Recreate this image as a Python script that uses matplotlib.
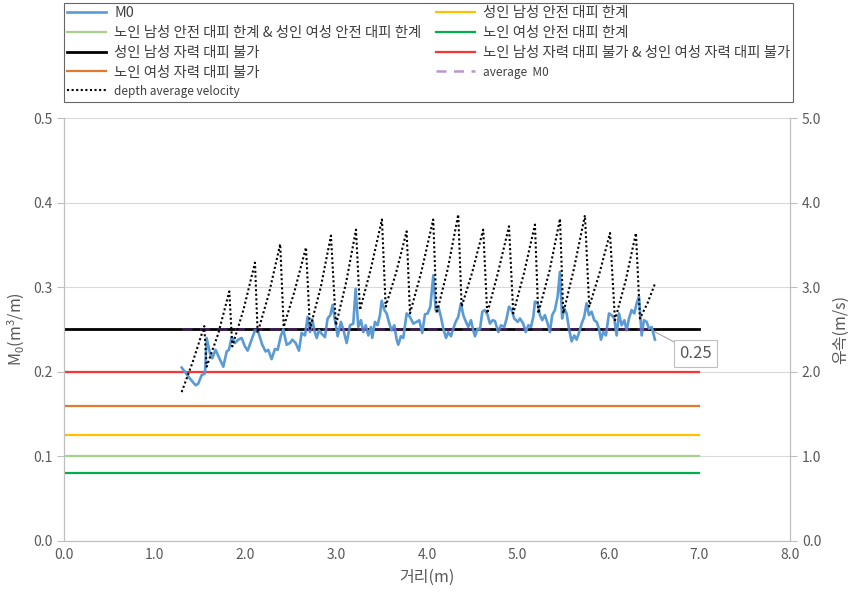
import matplotlib
matplotlib.use("Agg")
import matplotlib.pyplot as plt

plt.rcParams['font.family'] = ['Noto Sans CJK KR', 'DejaVu Sans']
plt.rcParams['mathtext.fontset'] = 'custom'
plt.rcParams['mathtext.rm'] = 'Noto Sans CJK KR'
plt.rcParams['mathtext.it'] = 'Noto Sans CJK KR'

# M0 시계열 (거리 m, M0 m3/m)
m0_x = [1.297, 1.388, 1.451, 1.48, 1.517, 1.554, 1.572, 1.609, 1.634, 1.671, 1.712, 1.756, 1.793, 1.818,
        1.848, 1.884, 1.921, 1.958, 1.994, 2.024, 2.061, 2.105, 2.141, 2.185, 2.222, 2.251, 2.288, 2.325,
        2.355, 2.391, 2.417, 2.454, 2.49, 2.516, 2.553, 2.59, 2.619, 2.656, 2.685, 2.711, 2.736, 2.759,
        2.785, 2.81, 2.84, 2.876, 2.905, 2.935, 2.961, 2.986, 3.016, 3.052, 3.078, 3.115, 3.152, 3.188,
        3.214, 3.243, 3.273, 3.298, 3.325, 3.354, 3.383, 3.397, 3.427, 3.456, 3.482, 3.501, 3.53, 3.556,
        3.585, 3.611, 3.64, 3.666, 3.684, 3.713, 3.739, 3.776, 3.812, 3.849, 3.886, 3.915, 3.948, 3.978,
        4.008, 4.037, 4.07, 4.096, 4.125, 4.154, 4.18, 4.21, 4.235, 4.264, 4.29, 4.316, 4.345, 4.375,
        4.4, 4.43, 4.455, 4.485, 4.51, 4.529, 4.558, 4.584, 4.61, 4.639, 4.669, 4.694, 4.724, 4.749,
        4.786, 4.815, 4.852, 4.878, 4.904, 4.933, 4.962, 5.0, 5.025, 5.061, 5.088, 5.117, 5.146, 5.172,
        5.19, 5.22, 5.245, 5.27, 5.3, 5.33, 5.355, 5.38, 5.41, 5.44, 5.465, 5.49, 5.513, 5.539, 5.565,
        5.594, 5.623, 5.649, 5.675, 5.705, 5.733, 5.759, 5.785, 5.815, 5.843, 5.87, 5.895, 5.917, 5.943,
        5.972, 6.006, 6.035, 6.064, 6.09, 6.116, 6.145, 6.175, 6.2, 6.226, 6.255, 6.285, 6.311, 6.336,
        6.366, 6.391, 6.421, 6.446, 6.476, 6.512]
m0_y = [0.205, 0.192, 0.184, 0.186, 0.196, 0.198, 0.240, 0.222, 0.216, 0.226, 0.216, 0.206, 0.224, 0.226,
        0.241, 0.234, 0.238, 0.240, 0.230, 0.225, 0.236, 0.249, 0.247, 0.232, 0.224, 0.226, 0.215, 0.227,
        0.226, 0.243, 0.250, 0.232, 0.234, 0.238, 0.234, 0.225, 0.246, 0.243, 0.265, 0.247, 0.262, 0.249,
        0.240, 0.249, 0.245, 0.241, 0.263, 0.267, 0.279, 0.261, 0.242, 0.259, 0.250, 0.234, 0.255, 0.257,
        0.298, 0.253, 0.261, 0.247, 0.255, 0.243, 0.253, 0.240, 0.259, 0.255, 0.267, 0.284, 0.273, 0.269,
        0.257, 0.249, 0.255, 0.238, 0.232, 0.242, 0.240, 0.269, 0.265, 0.257, 0.259, 0.261, 0.246, 0.268,
        0.269, 0.277, 0.314, 0.273, 0.277, 0.265, 0.251, 0.240, 0.247, 0.242, 0.251, 0.259, 0.265, 0.281,
        0.267, 0.259, 0.253, 0.261, 0.249, 0.242, 0.251, 0.250, 0.271, 0.273, 0.267, 0.257, 0.261, 0.260,
        0.247, 0.255, 0.253, 0.263, 0.277, 0.273, 0.263, 0.259, 0.263, 0.257, 0.247, 0.255, 0.253, 0.265,
        0.283, 0.281, 0.267, 0.261, 0.267, 0.257, 0.247, 0.267, 0.273, 0.289, 0.318, 0.263, 0.275, 0.269,
        0.251, 0.236, 0.243, 0.238, 0.246, 0.257, 0.265, 0.281, 0.267, 0.271, 0.261, 0.259, 0.251, 0.238,
        0.247, 0.243, 0.269, 0.267, 0.263, 0.243, 0.269, 0.255, 0.261, 0.249, 0.263, 0.273, 0.269, 0.281,
        0.289, 0.243, 0.261, 0.259, 0.251, 0.253, 0.238]

# 수심 평균 유속 (m/s)
vel_x = [1.297, 1.42, 1.546, 1.572, 1.70, 1.822, 1.855, 1.98, 2.105, 2.134, 2.26, 2.383, 2.421, 2.54,
         2.667, 2.711, 2.83, 2.942, 2.997, 3.11, 3.218, 3.262, 3.38, 3.504, 3.545, 3.66, 3.776, 3.813,
         3.94, 4.069, 4.107, 4.23, 4.345, 4.382, 4.50, 4.620, 4.664, 4.78, 4.904, 4.951, 5.07, 5.190,
         5.226, 5.35, 5.466, 5.502, 5.62, 5.741, 5.788, 5.90, 6.017, 6.072, 6.19, 6.303, 6.347, 6.43, 6.512]
vel_y = [1.76, 2.12, 2.54, 2.06, 2.45, 2.95, 2.30, 2.74, 3.29, 2.46, 2.93, 3.51, 2.53, 2.95, 3.47, 2.51,
         3.00, 3.61, 2.55, 3.06, 3.68, 2.73, 3.21, 3.80, 2.77, 3.17, 3.66, 2.69, 3.19, 3.80, 2.69, 3.22,
         3.86, 2.77, 3.18, 3.68, 2.69, 3.16, 3.72, 2.69, 3.17, 3.74, 2.69, 3.19, 3.81, 2.69, 3.22, 3.85,
         2.77, 3.16, 3.64, 2.61, 3.08, 3.64, 2.63, 2.81, 3.04]

# 대피 한계 기준선
limit_x = [0.0, 7.0]
limit_names = ['성인 남성 안전 대피 한계',
               '노인 남성 안전 대피 한계 & 성인 여성 안전 대피 한계',
               '노인 여성 안전 대피 한계',
               '성인 남성 자력 대피 불가',
               '노인 남성 자력 대피 불가 & 성인 여성 자력 대피 불가',
               '노인 여성 자력 대피 불가']
limit_vals = [0.125, 0.10, 0.08, 0.25, 0.20, 0.16]
limit_colors = ['#FFC000', '#A9D18E', '#00B050', '#000000', '#FF3333', '#E07A2E']

avg_x = [1.297, 6.512]
avg_m0 = 0.25

grey = '#595959'

fig = plt.figure(figsize=(8.54, 5.96), dpi=100)
ax = fig.add_axes([0.0749, 0.0923, 0.8501, 0.7097])
ax2 = ax.twinx()

lines = {}
for name, val, col in zip(limit_names, limit_vals, limit_colors):
    lw = 2.0 if col == '#000000' else 1.6
    lines[name], = ax.plot(limit_x, [val, val], color=col, lw=lw, zorder=3)

lines['M0'], = ax.plot(m0_x, m0_y, color='#5B9BD5', lw=1.9, zorder=4, label='M0')
lines['avg'], = ax.plot(avg_x, [avg_m0, avg_m0], color='#7030A0', lw=1.8,
                        linestyle=(0, (4, 3)), alpha=0.5, zorder=5)
lines['vel'], = ax2.plot(vel_x, vel_y, color='black', lw=1.5, linestyle=(0, (1, 1.2)), zorder=6)

ax.annotate('0.25', xy=(6.48, 0.249), xytext=(6.96, 0.222), ha='center', va='center',
            fontsize=12, color=grey,
            bbox=dict(boxstyle='square,pad=0.3', fc='white', ec='#BFBFBF', lw=0.8),
            arrowprops=dict(arrowstyle='-', color='#A6A6A6', lw=0.8, shrinkA=0, shrinkB=0,
                            relpos=(0, 1)))

ax.set_xlim(0, 8)
ax.set_ylim(0, 0.5)
ax2.set_ylim(0, 5)
ax.set_xticks([i * 1.0 for i in range(9)])
ax.set_xticklabels([f'{i:.1f}' for i in range(9)])
ax.set_yticks([i / 10 for i in range(6)])
ax.set_yticklabels([f'{i / 10:.1f}' for i in range(6)])
ax2.set_yticks(list(range(6)))
ax2.set_yticklabels([f'{i:.1f}' for i in range(6)])

ax.grid(axis='y', color='#D9D9D9', lw=0.8)
ax.set_axisbelow(True)
for a in (ax, ax2):
    a.spines['top'].set_visible(False)
    for s in ('left', 'right', 'bottom'):
        a.spines[s].set_color('#BFBFBF')
    a.tick_params(colors=grey, labelsize=10, length=5, width=0.8)
    a.tick_params(axis='both', color='#BFBFBF')
ax.tick_params(axis='x', length=0, pad=5)

ax.set_xlabel('거리(m)', fontsize=11.5, color=grey, labelpad=5)
ax.set_ylabel('M$_0$(m$^3$/m)', fontsize=11.5, color=grey, labelpad=4)
ax2.set_ylabel('유속(m/s)', fontsize=11.5, color=grey, labelpad=8)

handles = [lines['M0'], lines[limit_names[1]], lines[limit_names[3]], lines[limit_names[5]], lines['vel'],
           lines[limit_names[0]], lines[limit_names[2]], lines[limit_names[4]], lines['avg']]
labels = ['M0', limit_names[1], limit_names[3], limit_names[5], 'depth average velocity',
          limit_names[0], limit_names[2], limit_names[4], 'average  M0']
leg = fig.legend(handles, labels, loc='upper left', ncol=2, mode='expand',
                 bbox_to_anchor=(0.075, 0.8305, 0.8536, 0.1644), fontsize=10.4,
                 frameon=True, fancybox=False, edgecolor='#404040', handlelength=2.7,
                 labelspacing=0.4, borderpad=0.22, handletextpad=0.55, borderaxespad=0)
leg.get_frame().set_linewidth(0.8)
for t in leg.get_texts():
    t.set_color('#404040')
    if t.get_text() in ('depth average velocity', 'average  M0'):
        t.set_fontsize(8.5)

fig.savefig('out.png', dpi=100)
